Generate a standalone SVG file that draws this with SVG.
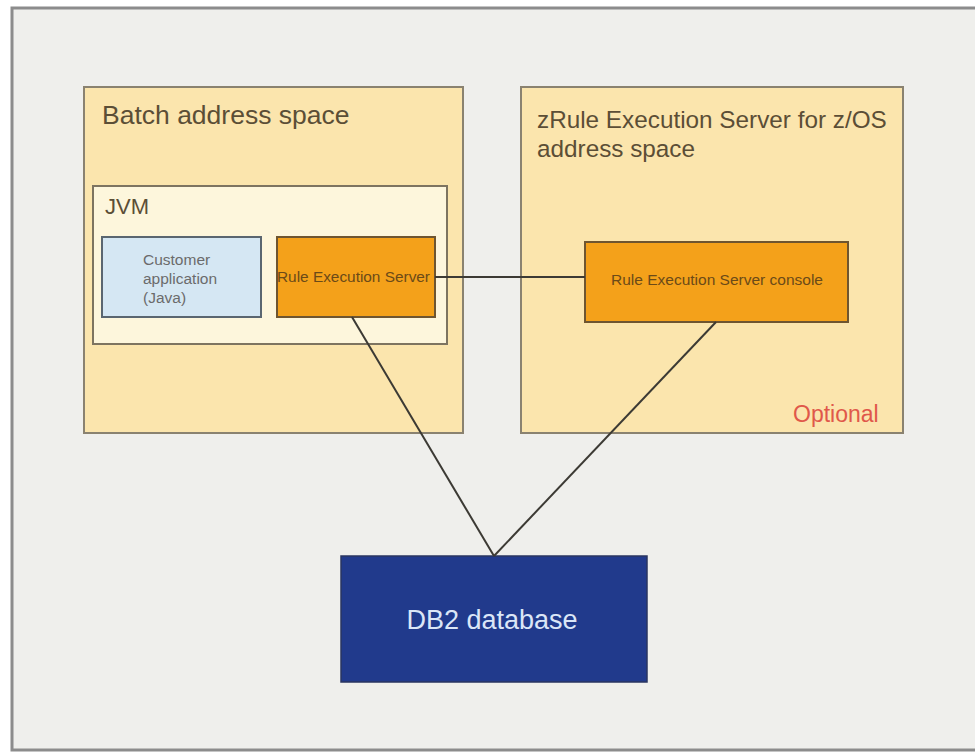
<svg xmlns="http://www.w3.org/2000/svg" width="975" height="754" viewBox="0 0 975 754">
<style>
text{font-family:"Liberation Sans",Arial,sans-serif;fill:#5b4e36}
.space{fill:#fbe5ad;stroke:#8a8270;stroke-width:2}
.jvm{fill:#fdf6dc;stroke:#7d7460;stroke-width:2}
.app{fill:#d5e7f3;stroke:#5a6670;stroke-width:2}
.res{fill:#f4a11a;stroke:#6e5530;stroke-width:2}
.conn line{stroke:#3c3a34;stroke-width:2}
</style>
<rect x="0" y="0" width="975" height="754" fill="#ffffff"/>
<g id="frame">
<rect x="12" y="8" width="975" height="742" fill="#efefec" stroke="#8c8c8c" stroke-width="3"/>
</g>
<g id="batch">
<rect class="space" x="84" y="87" width="379" height="346"/>
<text x="102" y="124" font-size="26.5">Batch address space</text>
</g>
<g id="jvm">
<rect class="jvm" x="93" y="186" width="354" height="158"/>
<text x="105" y="214" font-size="22">JVM</text>
</g>
<g id="customer">
<rect class="app" x="102" y="237" width="159" height="80"/>
<text font-size="15.5" style="fill:#6b6b6b">
<tspan x="143" y="265">Customer</tspan>
<tspan x="143" y="284">application</tspan>
<tspan x="143" y="303">(Java)</tspan>
</text>
</g>
<g id="res">
<rect class="res" x="277" y="237" width="158" height="80"/>
<text x="277" y="282" font-size="15" textLength="153" lengthAdjust="spacingAndGlyphs" style="fill:#6b4a18">Rule Execution Server</text>
</g>
<g id="zrule">
<rect class="space" x="521" y="87" width="382" height="346"/>
<text font-size="24.3"><tspan x="537" y="128">zRule Execution Server for z/OS</tspan><tspan x="537" y="157">address space</tspan></text>
<text x="793" y="422" font-size="23" style="fill:#e0584a">Optional</text>
</g>
<g id="console">
<rect class="res" x="585" y="242" width="263" height="80"/>
<text x="717" y="285" font-size="15.5" text-anchor="middle" style="fill:#6b4a18">Rule Execution Server console</text>
</g>
<g id="db2">
<rect x="341" y="556" width="306" height="126" fill="#213a8c" stroke="#2a3660" stroke-width="1.5"/>
<text x="492" y="629" font-size="27" text-anchor="middle" style="fill:#dbe6f7">DB2 database</text>
</g>
<g class="conn" id="connectors">
<line x1="435" y1="277" x2="585" y2="277"/>
<line x1="352" y1="317" x2="494" y2="556"/>
<line x1="716" y1="322" x2="494" y2="556"/>
</g>
</svg>
